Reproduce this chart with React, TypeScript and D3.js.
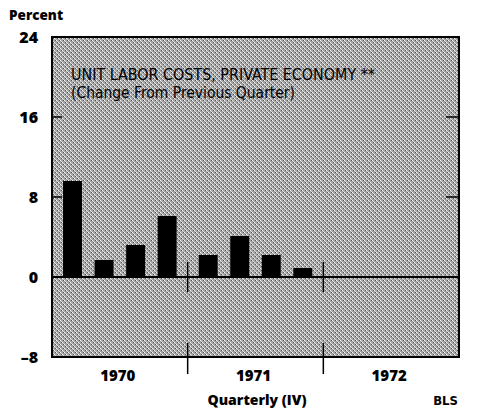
import * as d3 from "d3";

const years = ["1970", "1971", "1972"];
const quarters = ["I", "II", "III", "IV"];
const values1970 = [9.6, 1.7, 3.2, 6.1];
const values1971 = [2.2, 4.1, 2.2, 0.9];
const yTicks = [24, 16, 8, 0, -8];

const W = 478;
const H = 409;
const left = 52;
const right = 459;
const top = 37;
const bottom = 357;

export default function App() {
  const y = d3.scaleLinear().domain([-8, 24]).range([bottom, top]);
  const xYear = d3.scaleBand().domain(years).range([left, right]);
  const xQ = d3
    .scaleBand()
    .domain(quarters)
    .range([0, xYear.bandwidth()])
    .paddingInner(0.4)
    .paddingOuter(0.35);

  const bars = [
    ...values1970.map((v, i) => ({ year: "1970", q: quarters[i], v })),
    ...values1971.map((v, i) => ({ year: "1971", q: quarters[i], v })),
  ];

  const font = "'Open Sans', 'DejaVu Sans', sans-serif";
  const narrow = "'Liberation Sans Narrow', 'DejaVu Sans Condensed', sans-serif";

  return (
    <div style={{ position: "absolute", left: 0, top: 0 }}>
      <svg width={W} height={H} style={{ display: "block", background: "#fff" }}>
        <defs>
          <pattern id="stip" width="4" height="4" patternUnits="userSpaceOnUse">
            <rect width="4" height="4" fill="#a4a4a4" />
            <rect x="0" y="0" width="1" height="1" fill="#f4f4f4" />
            <rect x="2" y="2" width="1" height="1" fill="#f4f4f4" />
            <rect x="3" y="0" width="1" height="1" fill="#555" />
            <rect x="1" y="2" width="1" height="1" fill="#555" />
            <rect x="1" y="1" width="1" height="1" fill="#d6d6d6" />
            <rect x="3" y="3" width="1" height="1" fill="#d6d6d6" />
          </pattern>
        </defs>

        <rect x={left} y={top} width={right - left} height={bottom - top} fill="url(#stip)" />

        {bars.map((b) => (
          <rect
            key={b.year + b.q}
            x={(xYear(b.year) ?? 0) + (xQ(b.q) ?? 0)}
            y={y(b.v)}
            width={xQ.bandwidth()}
            height={y(0) - y(b.v)}
            fill="#000"
          />
        ))}

        <line x1={left} x2={right} y1={y(0)} y2={y(0)} stroke="#000" strokeWidth={2} />

        {[16, 8].map((t) => (
          <g key={t}>
            <line x1={left} x2={left + 10} y1={y(t)} y2={y(t)} stroke="#000" strokeWidth={1.5} />
            <line x1={right - 13} x2={right} y1={y(t)} y2={y(t)} stroke="#000" strokeWidth={1.5} />
          </g>
        ))}

        <rect
          x={left}
          y={top}
          width={right - left}
          height={bottom - top}
          fill="none"
          stroke="#000"
          strokeWidth={2}
        />

        {years.slice(1).map((yr) => {
          const x = xYear(yr) ?? 0;
          return (
            <g key={yr} stroke="#000" strokeWidth={1.5}>
              <line x1={x} x2={x} y1={y(1.5)} y2={y(-1.5)} />
              <line x1={x} x2={x} y1={y(-6.6)} y2={bottom + 17} />
            </g>
          );
        })}

        {yTicks.map((t) => (
          <text
            key={t}
            x={38}
            y={y(t) + 6}
            textAnchor="end"
            fontFamily={font}
            fontWeight="800"
            fontSize={16}
          >
            {t < 0 ? "\u2013" + Math.abs(t) : t}
          </text>
        ))}

        <text x={9} y={20} fontFamily={font} fontWeight="800" fontSize={13.5}>
          Percent
        </text>

        <text x={71} y={80} fontFamily={narrow} fontSize={16} textLength={304} lengthAdjust="spacingAndGlyphs">
          UNIT LABOR COSTS, PRIVATE ECONOMY **
        </text>
        <text x={71} y={98} fontFamily={narrow} fontSize={16} textLength={224} lengthAdjust="spacingAndGlyphs">
          (Change From Previous Quarter)
        </text>

        {years.map((yr) => (
          <text
            key={yr}
            x={(xYear(yr) ?? 0) + xYear.bandwidth() / 2 - 2}
            y={381}
            textAnchor="middle"
            fontFamily={font}
            fontWeight="800"
            fontSize={15}
          >
            {yr}
          </text>
        ))}

        <text x={257} y={405} textAnchor="middle" fontFamily={font} fontWeight="800" fontSize={14}>
          Quarterly (IV)
        </text>
        <text x={458} y={405} textAnchor="end" fontFamily={narrow} fontWeight="bold" fontSize={13}>
          BLS
        </text>
      </svg>
    </div>
  );
}
